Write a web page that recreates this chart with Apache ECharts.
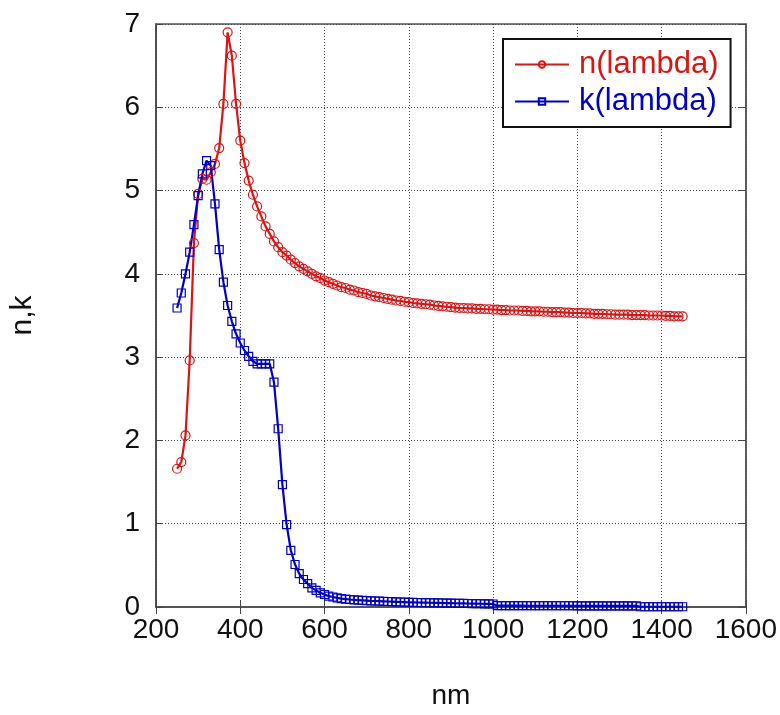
<!DOCTYPE html>
<html>
<head>
<meta charset="utf-8">
<script src="https://cdn.jsdelivr.net/npm/echarts@6/dist/echarts.min.js"></script>
<style>
html,body{margin:0;padding:0;background:#fff;}
#chart{width:780px;height:715px;}
</style>
</head>
<body>
<div id="chart"></div>
<script>
var wavelength = [250,260,270,280,290,300,310,320,330,340,350,360,370,380,390,400,410,420,430,440,450,460,470,480,490,500,510,520,530,540,550,560,570,580,590,600,610,620,630,640,650,660,670,680,690,700,710,720,730,740,750,760,770,780,790,800,810,820,830,840,850,860,870,880,890,900,910,920,930,940,950,960,970,980,990,1000,1010,1020,1030,1040,1050,1060,1070,1080,1090,1100,1110,1120,1130,1140,1150,1160,1170,1180,1190,1200,1210,1220,1230,1240,1250,1260,1270,1280,1290,1300,1310,1320,1330,1340,1350,1360,1370,1380,1390,1400,1410,1420,1430,1440,1450];

var nValues = [1.66,1.74,2.06,2.96,4.37,4.96,5.14,5.13,5.22,5.32,5.51,6.04,6.90,6.62,6.04,5.60,5.33,5.12,4.95,4.81,4.69,4.57,4.48,4.39,4.32,4.26,4.22,4.17,4.13,4.09,4.06,4.03,4.00,3.97,3.95,3.92,3.90,3.88,3.86,3.84,3.83,3.81,3.80,3.78,3.77,3.76,3.74,3.73,3.72,3.71,3.70,3.69,3.68,3.675,3.665,3.66,3.65,3.645,3.64,3.635,3.63,3.62,3.615,3.61,3.605,3.60,3.595,3.59,3.59,3.585,3.585,3.58,3.58,3.575,3.575,3.57,3.57,3.565,3.565,3.56,3.56,3.56,3.555,3.555,3.55,3.55,3.55,3.545,3.545,3.54,3.54,3.54,3.535,3.535,3.53,3.53,3.53,3.525,3.525,3.52,3.52,3.52,3.515,3.515,3.51,3.51,3.51,3.51,3.505,3.505,3.505,3.505,3.50,3.50,3.50,3.50,3.495,3.495,3.49,3.49,3.49];

var kValues = [3.59,3.77,4.00,4.26,4.59,4.94,5.20,5.36,5.30,4.84,4.29,3.90,3.62,3.43,3.28,3.17,3.08,3.01,2.95,2.92,2.92,2.92,2.92,2.70,2.14,1.47,0.99,0.68,0.51,0.40,0.33,0.28,0.23,0.20,0.17,0.15,0.13,0.12,0.11,0.10,0.095,0.09,0.086,0.083,0.08,0.077,0.074,0.072,0.07,0.068,0.066,0.064,0.062,0.06,0.058,0.056,0.055,0.054,0.053,0.052,0.051,0.05,0.049,0.048,0.047,0.046,0.045,0.044,0.043,0.042,0.041,0.04,0.039,0.038,0.037,0.036,0.016,0.016,0.016,0.016,0.016,0.016,0.016,0.015,0.015,0.015,0.015,0.015,0.015,0.015,0.015,0.015,0.015,0.015,0.015,0.014,0.014,0.014,0.014,0.014,0.014,0.014,0.014,0.014,0.013,0.013,0.013,0.013,0.013,0.013,0.003,0.003,0.003,0.003,0.003,0.003,0.003,0.003,0.003,0.003,0.003];

var xTicks = {min: 200, max: 1600, interval: 200};
var yTicks = {min: 0, max: 7, interval: 1};
var seriesNames = ['n(lambda)', 'k(lambda)'];

var RED = '#dc1414', BLUE = '#0000c8';
var FONT = 'Liberation Sans, Arial, sans-serif';

function pairs(ys){ return wavelength.map(function(x,i){ return [x, ys[i]]; }); }

var chart = echarts.init(document.getElementById('chart'));
var gridLine = {show:true, lineStyle:{type:[1,2], color:'#444', width:1}};
chart.setOption({
  backgroundColor:'#fff',
  animation:false,
  grid:{left:153, right:34, top:24, bottom:98, show:true, borderColor:'#555', borderWidth:1.5},
  xAxis:[{
    type:'value', min:xTicks.min, max:xTicks.max, interval:xTicks.interval,
    name:'nm', nameLocation:'middle', nameGap:75,
    nameTextStyle:{fontSize:28, color:'#111', fontFamily:FONT},
    axisLine:{show:true, lineStyle:{color:'#444', width:1.5}},
    axisTick:{show:true, inside:true, length:7, lineStyle:{color:'#444'}},
    axisLabel:{fontSize:28, color:'#111', fontFamily:FONT, margin:9, formatter:function(v){return String(v);}},
    splitLine:gridLine
  },{
    type:'value', position:'top', min:xTicks.min, max:xTicks.max, interval:xTicks.interval,
    axisLine:{show:true, lineStyle:{color:'#555', width:1.5}},
    axisTick:{show:true, inside:true, length:7, lineStyle:{color:'#444'}},
    axisLabel:{show:false}, splitLine:{show:false}
  }],
  yAxis:[{
    type:'value', min:yTicks.min, max:yTicks.max, interval:yTicks.interval,
    name:'n,k', nameLocation:'middle', nameGap:118, nameRotate:90,
    nameTextStyle:{fontSize:30, color:'#111', fontFamily:FONT},
    axisLine:{show:true, lineStyle:{color:'#444', width:1.5}},
    axisTick:{show:true, inside:true, length:7, lineStyle:{color:'#444'}},
    axisLabel:{fontSize:28, color:'#111', fontFamily:FONT, margin:16},
    splitLine:gridLine
  },{
    type:'value', position:'right', min:yTicks.min, max:yTicks.max, interval:yTicks.interval,
    axisLine:{show:true, lineStyle:{color:'#555', width:1.5}},
    axisTick:{show:true, inside:true, length:7, lineStyle:{color:'#444'}},
    axisLabel:{show:false}, splitLine:{show:false}
  }],
  legend:{
    orient:'vertical', left:503, top:39,
    padding:[10,12,10,11], itemGap:6, itemWidth:54, itemHeight:8,
    backgroundColor:'#fff', borderColor:'#111', borderWidth:2,
    textStyle:{fontSize:31, fontFamily:FONT, padding:[0,0,0,5]},
    data:[{name:seriesNames[0], textStyle:{color:RED}},{name:seriesNames[1], textStyle:{color:BLUE}}]
  },
  series:[{
    name:seriesNames[0], type:'line', data:pairs(nValues),
    symbol:'circle', symbolSize:9,
    lineStyle:{color:RED, width:2.2},
    itemStyle:{color:'rgba(255,255,255,0)', borderColor:RED, borderWidth:1.2},
    emphasis:{disabled:true}
  },{
    name:seriesNames[1], type:'line', data:pairs(kValues),
    symbol:'rect', symbolSize:8,
    lineStyle:{color:BLUE, width:2.2},
    itemStyle:{color:'rgba(255,255,255,0)', borderColor:BLUE, borderWidth:1.2},
    emphasis:{disabled:true}
  }]
});
</script>
</body>
</html>
